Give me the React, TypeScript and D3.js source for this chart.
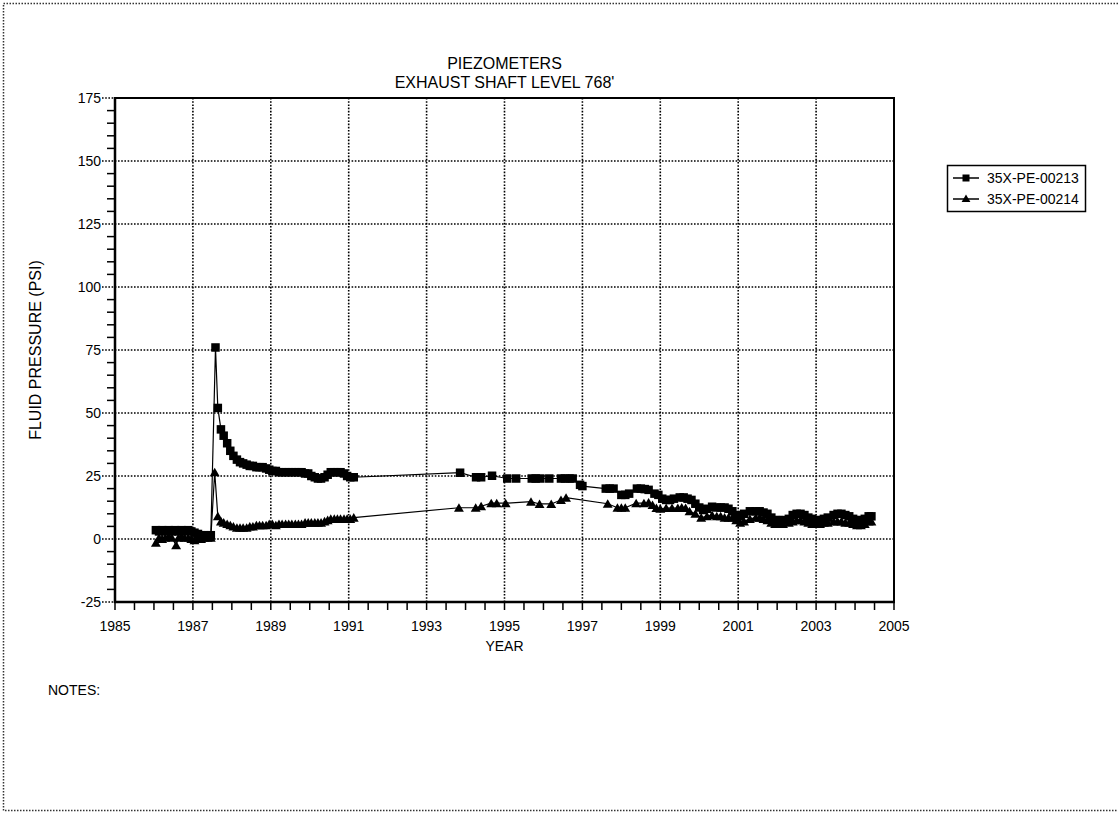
import React from "react";
import * as d3 from "d3";

const TITLE_LINES = ["PIEZOMETERS", "EXHAUST SHAFT LEVEL 768'"];
const SERIES_NAMES = ["35X-PE-00213", "35X-PE-00214"];
const X_TICKS = [1985, 1987, 1989, 1991, 1993, 1995, 1997, 1999, 2001, 2003, 2005];
const Y_TICKS = [-25, 0, 25, 50, 75, 100, 125, 150, 175];

// Series 35X-PE-00213 (squares): [decimal year, psi]
const S213: [number, number][] = [
  [1986.05, 3.5], [1986.13, 3], [1986.21, 3.5], [1986.29, 3], [1986.38, 3.5], [1986.46, 3],
  [1986.54, 3.5], [1986.63, 3], [1986.71, 3.5], [1986.79, 3], [1986.88, 3.5], [1986.96, 3],
  [1987.04, 2.5], [1987.13, 2], [1987.21, 1.5], [1987.29, 1.5], [1987.38, 1.5], [1987.46, 1.5],
  [1987.58, 76], [1987.64, 52], [1987.72, 43.5], [1987.79, 41], [1987.88, 38], [1987.96, 35],
  [1988.04, 33], [1988.13, 31.5], [1988.21, 30.5], [1988.29, 30], [1988.38, 29.5], [1988.46, 29],
  [1988.54, 29], [1988.63, 28.5], [1988.71, 28.5], [1988.79, 28.5], [1988.88, 28], [1988.96, 27.5],
  [1989.04, 27], [1989.13, 27], [1989.21, 26.5], [1989.29, 26.5], [1989.38, 26.5], [1989.46, 26.5],
  [1989.54, 26.5], [1989.63, 26.5], [1989.71, 26.5], [1989.79, 26.5], [1989.88, 26], [1989.96, 26],
  [1990.04, 25], [1990.13, 24.5], [1990.21, 24], [1990.29, 24], [1990.38, 24.5], [1990.46, 25.5],
  [1990.54, 26.5], [1990.63, 26.5], [1990.71, 26.5], [1990.79, 26.5], [1990.88, 26], [1990.96, 25],
  [1991.04, 24.5], [1991.13, 24.5],
  [1993.86, 26.3], [1994.27, 24.5], [1994.4, 24.5], [1994.68, 25.1], [1995.07, 24], [1995.3, 24],
  [1995.7, 24], [1995.8, 24], [1995.92, 24], [1996.15, 24], [1996.45, 24], [1996.55, 24],
  [1996.67, 24], [1996.75, 24], [1996.94, 21.5], [1997.0, 21],
  [1997.6, 20], [1997.7, 20], [1997.8, 20], [1998.0, 17.5], [1998.1, 17.5], [1998.2, 18],
  [1998.4, 20], [1998.5, 20], [1998.6, 19.8], [1998.7, 19.5], [1998.85, 18], [1998.95, 17.5],
  [1999.05, 16], [1999.15, 15.5], [1999.25, 15.5], [1999.35, 16], [1999.5, 16.5], [1999.6, 16.5],
  [1999.7, 16], [1999.8, 15.5], [1999.9, 14], [2000.0, 12.5], [2000.1, 11.5], [2000.2, 12],
  [2000.33, 12.8], [2000.45, 12.5], [2000.55, 12.5], [2000.65, 12.5], [2000.75, 12], [2000.85, 11],
  [2000.95, 9.5], [2001.05, 9], [2001.15, 10], [2001.3, 11], [2001.45, 11], [2001.55, 11],
  [2001.65, 10.5], [2001.75, 10], [2001.85, 8.5], [2001.95, 7.5], [2002.05, 7.5], [2002.15, 7.5],
  [2002.3, 8], [2002.4, 9.5], [2002.5, 10], [2002.6, 10], [2002.7, 9.5], [2002.8, 8.5],
  [2002.9, 8], [2003.0, 7.5], [2003.1, 7.5], [2003.2, 8], [2003.3, 8.5], [2003.45, 9.5],
  [2003.55, 10], [2003.65, 10], [2003.75, 9.5], [2003.85, 9], [2003.95, 8], [2004.05, 7.5],
  [2004.15, 7.5], [2004.25, 8], [2004.35, 9], [2004.42, 9],
];

// Series 35X-PE-00214 (triangles): [decimal year, psi]
const S214: [number, number][] = [
  [1986.05, -1.5], [1986.13, 0.5], [1986.21, 0], [1986.29, 0.5], [1986.38, 1], [1986.46, 0.5],
  [1986.57, -2.5], [1986.63, 0.5], [1986.71, 1], [1986.79, 0.5], [1986.88, 0.5], [1986.96, 0],
  [1987.04, -0.5], [1987.13, 0], [1987.21, 0], [1987.29, 0.5], [1987.38, 0.5], [1987.46, 0.5],
  [1987.56, 26.5], [1987.64, 9], [1987.72, 7], [1987.79, 6.5], [1987.88, 6], [1987.96, 5.5],
  [1988.04, 5], [1988.13, 4.5], [1988.21, 4.5], [1988.29, 4.5], [1988.38, 4.5], [1988.46, 5],
  [1988.54, 5], [1988.63, 5.5], [1988.71, 5.5], [1988.79, 5.5], [1988.88, 5.5], [1988.96, 6],
  [1989.04, 6], [1989.13, 5.5], [1989.21, 6], [1989.29, 6], [1989.38, 6], [1989.46, 6],
  [1989.54, 6], [1989.63, 6], [1989.71, 6], [1989.79, 6], [1989.88, 6.5], [1989.96, 6.5],
  [1990.04, 6.5], [1990.13, 6.5], [1990.21, 6.5], [1990.29, 6.5], [1990.38, 7], [1990.46, 7.5],
  [1990.54, 8], [1990.63, 8], [1990.71, 8], [1990.79, 8], [1990.88, 8], [1990.96, 8],
  [1991.04, 8], [1991.13, 8.5],
  [1993.83, 12.4], [1994.26, 12.4], [1994.4, 13], [1994.66, 14.2], [1994.8, 14.2], [1995.03, 14.2],
  [1995.68, 14.8], [1995.9, 13.9], [1996.2, 13.9], [1996.45, 15.5], [1996.58, 16.4],
  [1997.65, 14], [1997.9, 12.4], [1998.0, 12.4], [1998.1, 12.4], [1998.38, 14.2], [1998.58, 14.2],
  [1998.7, 14.5], [1998.8, 13.5], [1998.9, 12.3], [1999.0, 12], [1999.15, 12.3], [1999.3, 12.3],
  [1999.45, 12.3], [1999.55, 12.5], [1999.65, 12.3], [1999.75, 11], [1999.9, 10], [2000.05, 8.5],
  [2000.2, 9], [2000.33, 9.5], [2000.45, 9], [2000.55, 9], [2000.65, 8.5], [2000.75, 8.5],
  [2000.85, 8.5], [2000.95, 7.5], [2001.05, 6.5], [2001.15, 7], [2001.3, 8], [2001.45, 8.5],
  [2001.55, 8.5], [2001.65, 8], [2001.75, 7.5], [2001.85, 6.5], [2001.95, 6], [2002.05, 6],
  [2002.15, 6], [2002.3, 6.5], [2002.4, 7], [2002.5, 7.5], [2002.6, 7.5], [2002.7, 7],
  [2002.8, 6.5], [2002.9, 6], [2003.0, 6], [2003.1, 6], [2003.2, 6.5], [2003.3, 6.5],
  [2003.45, 7], [2003.55, 7], [2003.65, 7], [2003.75, 6.5], [2003.85, 6.5], [2003.95, 6],
  [2004.05, 5.5], [2004.15, 5.5], [2004.25, 6], [2004.35, 7], [2004.42, 7],
];

const FONT = "'Liberation Sans', Arial, Helvetica, sans-serif";

export default function App() {
  const W = 1118, H = 814;
  const L = 115, R = 894, T = 98, B = 602;
  const x = d3.scaleLinear().domain([1985, 2005]).range([L, R]);
  const y = d3.scaleLinear().domain([-25, 175]).range([B, T]);
  const line = d3.line<[number, number]>().x(d => x(d[0])).y(d => y(d[1]));
  const minorX = d3.range(1985, 2005.01, 0.5);
  const minorY = d3.range(-25, 175.01, 5);
  const sq = 8.5;
  const tri = (cx: number, cy: number, s = 9) =>
    `M${cx},${cy - s * 0.5}L${cx + s * 0.55},${cy + s * 0.45}L${cx - s * 0.55},${cy + s * 0.45}Z`;
  const grid = { stroke: "#000", strokeWidth: 1.6, strokeDasharray: "1.6,1.6" };

  return (
    <svg width={W} height={H} style={{ position: "absolute", left: 0, top: 0, background: "#fff" }} fontFamily={FONT}>
      <rect x={3.5} y={3.5} width={1125} height={807} fill="none" stroke="#333" strokeWidth={1.5} strokeDasharray="1.5,1.5" />
      {TITLE_LINES.map((t, i) => (
        <text key={t} x={(L + R) / 2} y={69 + i * 19} textAnchor="middle" fontSize={16} fill="#000">{t}</text>
      ))}
      {/* gridlines */}
      {X_TICKS.slice(1, -1).map(t => (
        <line key={"gx" + t} x1={x(t)} x2={x(t)} y1={T} y2={B} {...grid} />
      ))}
      {Y_TICKS.map(t => (
        <line key={"gy" + t} x1={L - 13} x2={R} y1={y(t)} y2={y(t)} {...grid} />
      ))}
      {/* minor ticks */}
      {minorY.filter(v => v % 25 !== 0).map(v => (
        <line key={"my" + v} x1={L - 8} x2={L} y1={y(v)} y2={y(v)} stroke="#000" strokeWidth={1.5} />
      ))}
      {minorX.map(v => (
        <line key={"mx" + v} x1={x(v)} x2={x(v)} y1={B} y2={B + 8} stroke="#000" strokeWidth={1.5} />
      ))}
      {/* frame */}
      <line x1={L} x2={R + 1} y1={T} y2={T} stroke="#000" strokeWidth={2} />
      <line x1={R} x2={R} y1={T} y2={B} stroke="#000" strokeWidth={2} />
      <line x1={L} x2={L} y1={T - 1} y2={B + 1} stroke="#000" strokeWidth={2.5} />
      <line x1={L - 1} x2={R + 1} y1={B} y2={B} stroke="#000" strokeWidth={2.5} />
      {/* tick labels */}
      {Y_TICKS.map(t => (
        <text key={"ty" + t} x={L - 14} y={y(t) + 5} textAnchor="end" fontSize={14} fill="#000">{t}</text>
      ))}
      {X_TICKS.map(t => (
        <text key={"tx" + t} x={x(t)} y={631} textAnchor="middle" fontSize={14} fill="#000">{t}</text>
      ))}
      <text x={(L + R) / 2} y={651} textAnchor="middle" fontSize={14} fill="#000">YEAR</text>
      <text transform={`translate(41,${(T + B) / 2}) rotate(-90)`} textAnchor="middle" fontSize={16} fill="#000">FLUID PRESSURE (PSI)</text>
      <text x={48} y={695} fontSize={14} fill="#000">NOTES:</text>
      {/* series */}
      <path d={line(S213) || ""} fill="none" stroke="#000" strokeWidth={1.2} />
      <path d={line(S214) || ""} fill="none" stroke="#000" strokeWidth={1.2} />
      {S213.map((d, i) => (
        <rect key={"s" + i} x={x(d[0]) - sq / 2} y={y(d[1]) - sq / 2} width={sq} height={sq} fill="#000" />
      ))}
      {S214.map((d, i) => (
        <path key={"t" + i} d={tri(x(d[0]), y(d[1]))} fill="#000" />
      ))}
      {/* legend */}
      <rect x={947.5} y={165.5} width={138} height={46} fill="#fff" stroke="#000" strokeWidth={1.5} />
      {SERIES_NAMES.map((n, i) => {
        const ly = 178 + i * 21;
        return (
          <g key={n}>
            <line x1={953} x2={979} y1={ly} y2={ly} stroke="#000" strokeWidth={1.5} />
            {i === 0
              ? <rect x={966 - 3.5} y={ly - 3.5} width={7} height={7} fill="#000" />
              : <path d={tri(966, ly - 0.5, 8)} fill="#000" />}
            <text x={987} y={ly + 5} fontSize={14} fill="#000">{n}</text>
          </g>
        );
      })}
    </svg>
  );
}
